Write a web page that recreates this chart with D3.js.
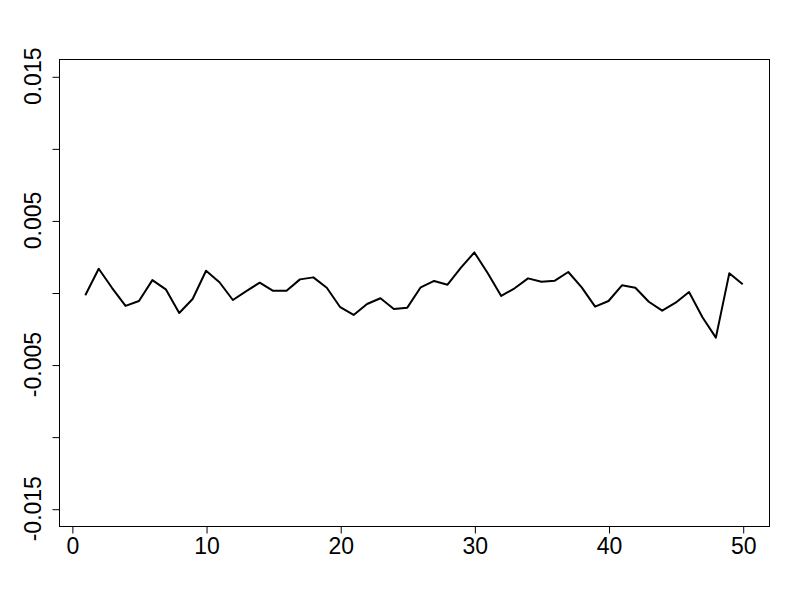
<!DOCTYPE html>
<html>
<head>
<meta charset="utf-8">
<script src="https://cdn.jsdelivr.net/npm/d3@7"></script>
<style>
  html, body { margin: 0; padding: 0; background: #fff; }
  svg { display: block; }
  text { font-family: "Liberation Sans", Arial, sans-serif; }
</style>
</head>
<body>
<svg id="chart" width="800" height="600"></svg>
<script>
const xIndex = d3.range(1, 51);
const values = [
  -0.00019, 0.00165, 0.00031, -0.00093, -0.00059, 0.00086, 0.00022, -0.00142, -0.00045, 0.00151,
  0.00071, -0.00052, 0.00010, 0.00068, 0.00012, 0.00012, 0.00091, 0.00105, 0.00033, -0.00102,
  -0.00156, -0.00080, -0.00040, -0.00114, -0.00105, 0.00036, 0.00080, 0.00054, 0.00172, 0.00278,
  0.00133, -0.00024, 0.00029, 0.00098, 0.00075, 0.00082, 0.00142, 0.00036, -0.00098, -0.00059,
  0.00050, 0.00033, -0.00064, -0.00126, -0.00071, 0.00003, -0.00172, -0.00313, 0.00133, 0.00057
];
const xTicks = [0, 10, 20, 30, 40, 50];
const yTicks = [-0.015, -0.010, -0.005, 0, 0.005, 0.010, 0.015];
const yLabelTicks = [-0.015, -0.005, 0.005, 0.015];
const yLabels = ["-0.015", "-0.005", "0.005", "0.015"];

const mLeft = 59, mRight = 769, mTop = 59, mBottom = 526;
const svg = d3.select("#chart");

const xExt = (50 - 1) * 0.04;
const x = d3.scaleLinear().domain([1 - xExt, 50 + xExt]).range([mLeft, mRight]);
const yExt = 0.03 * 0.04;
const y = d3.scaleLinear().domain([-0.015 - yExt, 0.015 + yExt]).range([mBottom, mTop]);

// line
const line = d3.line().x((d, i) => x(xIndex[i])).y(d => y(d));
svg.append("path")
  .datum(values)
  .attr("d", line)
  .attr("fill", "none")
  .attr("stroke", "#000")
  .attr("stroke-width", 2)
  .attr("stroke-linejoin", "round");

// box
svg.append("rect")
  .attr("x", mLeft + 0.5).attr("y", mTop + 0.5)
  .attr("width", mRight - mLeft).attr("height", mBottom - mTop)
  .attr("fill", "none").attr("stroke", "#000").attr("stroke-width", 1);

// x axis
const xAxis = d3.axisBottom(x).tickValues(xTicks).tickSize(7).tickPadding(4).tickFormat(d3.format("d"));
const gx = svg.append("g").attr("transform", `translate(0.5,${mBottom + 0.5})`).call(xAxis);
gx.select(".domain").remove();
gx.selectAll("text").attr("font-size", 23).attr("fill", "#000").style("font-family", "Liberation Sans, Arial, sans-serif");
gx.selectAll("line").attr("stroke", "#000");

// y axis
const yAxis = d3.axisLeft(y).tickValues(yTicks).tickSize(7).tickFormat("");
const gy = svg.append("g").attr("transform", `translate(${mLeft + 0.5},0.5)`).call(yAxis);
gy.select(".domain").remove();
gy.selectAll("line").attr("stroke", "#000");

svg.selectAll(".ylab")
  .data(yLabelTicks)
  .enter().append("text")
  .attr("class", "ylab")
  .attr("transform", (d) => `translate(${mLeft - 18},${y(d)}) rotate(-90)`)
  .attr("text-anchor", "middle")
  .attr("font-size", 23)
  .attr("fill", "#000")
  .text((d, i) => yLabels[i]);
</script>
</body>
</html>
